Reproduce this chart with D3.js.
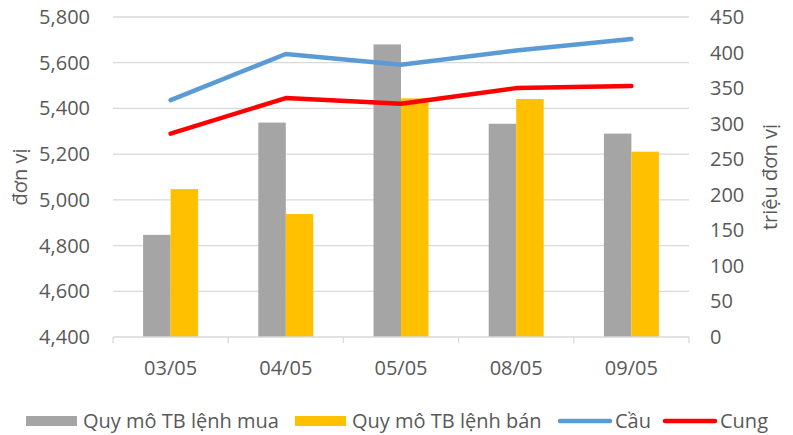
<!DOCTYPE html>
<html><head><meta charset="utf-8">
<script src="https://cdn.jsdelivr.net/npm/d3@7"></script>
<style>
html,body{margin:0;padding:0;background:#fff;}
svg text{font-family:"Open Sans","Noto Sans",sans-serif;fill:#595959;}
</style></head>
<body>
<svg id="c" width="793" height="435"></svg>
<script>
const categories = ["03/05","04/05","05/05","08/05","09/05"];
const muaValues = [4847, 5338, 5680, 5333, 5290];
const banValues = [5047, 4938, 5444, 5441, 5211];
const cauValues = [333, 398, 383, 403, 419];
const cungValues = [286, 336, 328, 350, 353];
const leftTicks = [4400,4600,4800,5000,5200,5400,5600,5800];
const rightTicks = [0,50,100,150,200,250,300,350,400,450];
const seriesNames = ["Quy mô TB lệnh mua","Quy mô TB lệnh bán","Cầu","Cung"];
const colors = {mua:"#A5A5A5", ban:"#FFC000", cau:"#5B9BD5", cung:"#FF0000"};

const svg = d3.select("#c");
const L = 113, R = 689, T = 17, B = 337;
const FS = 20;
const x = d3.scaleBand().domain(categories).range([L, R]);
const yL = d3.scaleLinear().domain([4400, 5800]).range([B, T]);
const yR = d3.scaleLinear().domain([0, 450]).range([B, T]);

// gridlines
svg.append("g").selectAll("line").data(leftTicks.slice(1)).join("line")
  .attr("x1", L).attr("x2", R).attr("y1", d => yL(d)).attr("y2", d => yL(d))
  .attr("stroke", "#D9D9D9").attr("stroke-width", 1.3);

// bars
const bw = 27.5;
const gb = svg.append("g");
gb.selectAll(".mua").data(categories).join("rect")
  .attr("x", (d,i) => x(d) + x.bandwidth()/2 - bw)
  .attr("y", (d,i) => yL(muaValues[i]))
  .attr("width", bw).attr("height", (d,i) => B - yL(muaValues[i]))
  .attr("fill", colors.mua);
gb.selectAll(".ban").data(categories).join("rect")
  .attr("x", (d,i) => x(d) + x.bandwidth()/2)
  .attr("y", (d,i) => yL(banValues[i]))
  .attr("width", bw).attr("height", (d,i) => B - yL(banValues[i]))
  .attr("fill", colors.ban);

// x axis
const xa = svg.append("g");
xa.append("line").attr("x1", L).attr("x2", R).attr("y1", B).attr("y2", B)
  .attr("stroke", "#D9D9D9").attr("stroke-width", 1.3);
const bounds = categories.map(d => x(d)).concat([R]);
xa.selectAll(".tk").data(bounds).join("line")
  .attr("x1", d => d).attr("x2", d => d).attr("y1", B).attr("y2", B + 6)
  .attr("stroke", "#D9D9D9").attr("stroke-width", 1.3);
xa.selectAll("text").data(categories).join("text")
  .attr("x", d => x(d) + x.bandwidth()/2).attr("y", 375)
  .attr("text-anchor", "middle").attr("font-size", FS).text(d => d);

// left axis labels
svg.append("g").selectAll("text").data(leftTicks).join("text")
  .attr("x", 90).attr("y", d => yL(d) + 7)
  .attr("text-anchor", "end").attr("font-size", FS)
  .text(d => d3.format(",")(d));
// right axis labels
svg.append("g").selectAll("text").data(rightTicks).join("text")
  .attr("x", 710).attr("y", d => yR(d) + 7)
  .attr("text-anchor", "start").attr("font-size", FS)
  .text(d => d);

// axis titles
svg.append("text").attr("transform", "translate(27,177) rotate(-90)")
  .attr("text-anchor", "middle").attr("font-size", FS).text("đơn vị");
svg.append("text").attr("transform", "translate(777,177) rotate(-90)")
  .attr("text-anchor", "middle").attr("font-size", FS).text("triệu đơn vị");

// lines
const line = vals => d3.line()
  .x((d,i) => x(categories[i]) + x.bandwidth()/2)
  .y(d => yR(d))(vals);
svg.append("path").attr("d", line(cauValues)).attr("fill", "none")
  .attr("stroke", colors.cau).attr("stroke-width", 4.5).attr("stroke-linecap", "round").attr("stroke-linejoin", "round");
svg.append("path").attr("d", line(cungValues)).attr("fill", "none")
  .attr("stroke", colors.cung).attr("stroke-width", 4.5).attr("stroke-linecap", "round").attr("stroke-linejoin", "round");

// legend
const lg = svg.append("g");
const ly = 421;
const legendItems = [
  {name: seriesNames[0], type: "rect", color: colors.mua, x: 26},
  {name: seriesNames[1], type: "rect", color: colors.ban, x: 295},
  {name: seriesNames[2], type: "line", color: colors.cau, x: 558},
  {name: seriesNames[3], type: "line", color: colors.cung, x: 663}
];
legendItems.forEach(it => {
  if (it.type === "rect") {
    lg.append("rect").attr("x", it.x).attr("y", ly - 5).attr("width", 51).attr("height", 10).attr("fill", it.color);
  } else {
    lg.append("line").attr("x1", it.x + 2).attr("x2", it.x + 52).attr("y1", ly).attr("y2", ly)
      .attr("stroke", it.color).attr("stroke-width", 4.5).attr("stroke-linecap", "round");
  }
  lg.append("text").attr("x", it.x + 57).attr("y", ly + 7).attr("font-size", FS).text(it.name);
});
</script>
</body></html>
